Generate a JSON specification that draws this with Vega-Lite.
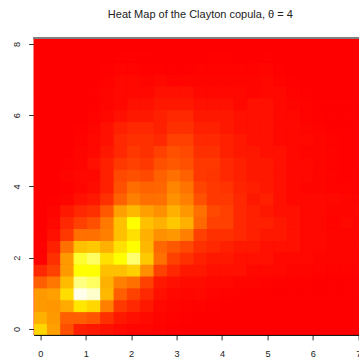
{
  "$schema": "https://vega.github.io/schema/vega-lite/v6.json",
  "width": 325.4,
  "height": 296.9,
  "autosize": {"type": "none"},
  "padding": {"left": 33.6, "top": 38, "right": 0, "bottom": 26.1},
  "title": {
    "text": "Heat Map of the Clayton copula, θ = 4",
    "font": "Liberation Sans",
    "fontSize": 11,
    "fontWeight": "normal",
    "color": "#222222",
    "anchor": "middle",
    "frame": "group",
    "baseline": "alphabetic",
    "dx": 4,
    "offset": 9
  },
  "data": {
    "values": [
      {"x":0,"y":0,"z":0.63},{"x":0.2933,"y":0,"z":0.47},{"x":0.5867,"y":0,"z":0.235},{"x":0.88,"y":0,"z":0.09},{"x":1.1733,"y":0,"z":0.07},{"x":1.4667,"y":0,"z":0.05},{"x":1.76,"y":0,"z":0.025},{"x":2.0533,"y":0,"z":0.015},{"x":2.3467,"y":0,"z":0.015},{"x":2.64,"y":0,"z":0.008},{"x":2.9333,"y":0,"z":0.003},{"x":3.2267,"y":0,"z":0},{"x":3.52,"y":0,"z":0},{"x":3.8133,"y":0,"z":0},{"x":4.1067,"y":0,"z":0},{"x":4.4,"y":0,"z":0},{"x":4.6933,"y":0,"z":0},{"x":4.9867,"y":0,"z":0},{"x":5.28,"y":0,"z":0},{"x":5.5733,"y":0,"z":0},{"x":5.8667,"y":0,"z":0},{"x":6.16,"y":0,"z":0},{"x":6.4533,"y":0,"z":0},{"x":6.7467,"y":0,"z":0},{"x":7.04,"y":0,"z":0},
      {"x":0,"y":0.3333,"z":0.52},{"x":0.2933,"y":0.3333,"z":0.45},{"x":0.5867,"y":0.3333,"z":0.28},{"x":0.88,"y":0.3333,"z":0.28},{"x":1.1733,"y":0.3333,"z":0.25},{"x":1.4667,"y":0.3333,"z":0.14},{"x":1.76,"y":0.3333,"z":0.07},{"x":2.0533,"y":0.3333,"z":0.047},{"x":2.3467,"y":0.3333,"z":0.03},{"x":2.64,"y":0.3333,"z":0.015},{"x":2.9333,"y":0.3333,"z":0.008},{"x":3.2267,"y":0.3333,"z":0.003},{"x":3.52,"y":0.3333,"z":0},{"x":3.8133,"y":0.3333,"z":0},{"x":4.1067,"y":0.3333,"z":0},{"x":4.4,"y":0.3333,"z":0},{"x":4.6933,"y":0.3333,"z":0},{"x":4.9867,"y":0.3333,"z":0},{"x":5.28,"y":0.3333,"z":0},{"x":5.5733,"y":0.3333,"z":0},{"x":5.8667,"y":0.3333,"z":0},{"x":6.16,"y":0.3333,"z":0},{"x":6.4533,"y":0.3333,"z":0},{"x":6.7467,"y":0.3333,"z":0},{"x":7.04,"y":0.3333,"z":0},
      {"x":0,"y":0.6667,"z":0.45},{"x":0.2933,"y":0.6667,"z":0.44},{"x":0.5867,"y":0.6667,"z":0.5},{"x":0.88,"y":0.6667,"z":0.68},{"x":1.1733,"y":0.6667,"z":0.635},{"x":1.4667,"y":0.6667,"z":0.376},{"x":1.76,"y":0.6667,"z":0.165},{"x":2.0533,"y":0.6667,"z":0.118},{"x":2.3467,"y":0.6667,"z":0.07},{"x":2.64,"y":0.6667,"z":0.024},{"x":2.9333,"y":0.6667,"z":0.015},{"x":3.2267,"y":0.6667,"z":0.01},{"x":3.52,"y":0.6667,"z":0.01},{"x":3.8133,"y":0.6667,"z":0.003},{"x":4.1067,"y":0.6667,"z":0},{"x":4.4,"y":0.6667,"z":0},{"x":4.6933,"y":0.6667,"z":0},{"x":4.9867,"y":0.6667,"z":0},{"x":5.28,"y":0.6667,"z":0},{"x":5.5733,"y":0.6667,"z":0},{"x":5.8667,"y":0.6667,"z":0},{"x":6.16,"y":0.6667,"z":0},{"x":6.4533,"y":0.6667,"z":0},{"x":6.7467,"y":0.6667,"z":0},{"x":7.04,"y":0.6667,"z":0},
      {"x":0,"y":1,"z":0.45},{"x":0.2933,"y":1,"z":0.47},{"x":0.5867,"y":1,"z":0.65},{"x":0.88,"y":1,"z":0.98},{"x":1.1733,"y":1,"z":0.95},{"x":1.4667,"y":1,"z":0.54},{"x":1.76,"y":1,"z":0.28},{"x":2.0533,"y":1,"z":0.19},{"x":2.3467,"y":1,"z":0.118},{"x":2.64,"y":1,"z":0.047},{"x":2.9333,"y":1,"z":0.024},{"x":3.2267,"y":1,"z":0.02},{"x":3.52,"y":1,"z":0.024},{"x":3.8133,"y":1,"z":0.012},{"x":4.1067,"y":1,"z":0.01},{"x":4.4,"y":1,"z":0.008},{"x":4.6933,"y":1,"z":0.006},{"x":4.9867,"y":1,"z":0.005},{"x":5.28,"y":1,"z":0.004},{"x":5.5733,"y":1,"z":0.003},{"x":5.8667,"y":1,"z":0.003},{"x":6.16,"y":1,"z":0.002},{"x":6.4533,"y":1,"z":0.002},{"x":6.7467,"y":1,"z":0.002},{"x":7.04,"y":1,"z":0.002},
      {"x":0,"y":1.3333,"z":0.28},{"x":0.2933,"y":1.3333,"z":0.35},{"x":0.5867,"y":1.3333,"z":0.55},{"x":0.88,"y":1.3333,"z":0.875},{"x":1.1733,"y":1.3333,"z":0.845},{"x":1.4667,"y":1.3333,"z":0.52},{"x":1.76,"y":1.3333,"z":0.376},{"x":2.0533,"y":1.3333,"z":0.33},{"x":2.3467,"y":1.3333,"z":0.19},{"x":2.64,"y":1.3333,"z":0.07},{"x":2.9333,"y":1.3333,"z":0.047},{"x":3.2267,"y":1.3333,"z":0.035},{"x":3.52,"y":1.3333,"z":0.035},{"x":3.8133,"y":1.3333,"z":0.024},{"x":4.1067,"y":1.3333,"z":0.024},{"x":4.4,"y":1.3333,"z":0.015},{"x":4.6933,"y":1.3333,"z":0.015},{"x":4.9867,"y":1.3333,"z":0.01},{"x":5.28,"y":1.3333,"z":0.008},{"x":5.5733,"y":1.3333,"z":0.006},{"x":5.8667,"y":1.3333,"z":0.005},{"x":6.16,"y":1.3333,"z":0.004},{"x":6.4533,"y":1.3333,"z":0.003},{"x":6.7467,"y":1.3333,"z":0.003},{"x":7.04,"y":1.3333,"z":0.003},
      {"x":0,"y":1.6667,"z":0.118},{"x":0.2933,"y":1.6667,"z":0.19},{"x":0.5867,"y":1.6667,"z":0.45},{"x":0.88,"y":1.6667,"z":0.75},{"x":1.1733,"y":1.6667,"z":0.75},{"x":1.4667,"y":1.6667,"z":0.565},{"x":1.76,"y":1.6667,"z":0.565},{"x":2.0533,"y":1.6667,"z":0.61},{"x":2.3467,"y":1.6667,"z":0.42},{"x":2.64,"y":1.6667,"z":0.19},{"x":2.9333,"y":1.6667,"z":0.118},{"x":3.2267,"y":1.6667,"z":0.07},{"x":3.52,"y":1.6667,"z":0.07},{"x":3.8133,"y":1.6667,"z":0.047},{"x":4.1067,"y":1.6667,"z":0.047},{"x":4.4,"y":1.6667,"z":0.047},{"x":4.6933,"y":1.6667,"z":0.024},{"x":4.9867,"y":1.6667,"z":0.024},{"x":5.28,"y":1.6667,"z":0.024},{"x":5.5733,"y":1.6667,"z":0.015},{"x":5.8667,"y":1.6667,"z":0.015},{"x":6.16,"y":1.6667,"z":0.012},{"x":6.4533,"y":1.6667,"z":0.01},{"x":6.7467,"y":1.6667,"z":0.008},{"x":7.04,"y":1.6667,"z":0.008},
      {"x":0,"y":2,"z":0.005},{"x":0.2933,"y":2,"z":0.141},{"x":0.5867,"y":2,"z":0.45},{"x":0.88,"y":2,"z":0.797},{"x":1.1733,"y":2,"z":0.845},{"x":1.4667,"y":2,"z":0.66},{"x":1.76,"y":2,"z":0.75},{"x":2.0533,"y":2,"z":0.86},{"x":2.3467,"y":2,"z":0.59},{"x":2.64,"y":2,"z":0.33},{"x":2.9333,"y":2,"z":0.19},{"x":3.2267,"y":2,"z":0.141},{"x":3.52,"y":2,"z":0.094},{"x":3.8133,"y":2,"z":0.07},{"x":4.1067,"y":2,"z":0.07},{"x":4.4,"y":2,"z":0.047},{"x":4.6933,"y":2,"z":0.047},{"x":4.9867,"y":2,"z":0.047},{"x":5.28,"y":2,"z":0.024},{"x":5.5733,"y":2,"z":0.024},{"x":5.8667,"y":2,"z":0.024},{"x":6.16,"y":2,"z":0.015},{"x":6.4533,"y":2,"z":0.015},{"x":6.7467,"y":2,"z":0.015},{"x":7.04,"y":2,"z":0.015},
      {"x":0,"y":2.3333,"z":0.002},{"x":0.2933,"y":2.3333,"z":0.094},{"x":0.5867,"y":2.3333,"z":0.33},{"x":0.88,"y":2.3333,"z":0.565},{"x":1.1733,"y":2.3333,"z":0.588},{"x":1.4667,"y":2.3333,"z":0.518},{"x":1.76,"y":2.3333,"z":0.659},{"x":2.0533,"y":2.3333,"z":0.75},{"x":2.3467,"y":2.3333,"z":0.541},{"x":2.64,"y":2.3333,"z":0.306},{"x":2.9333,"y":2.3333,"z":0.259},{"x":3.2267,"y":2.3333,"z":0.212},{"x":3.52,"y":2.3333,"z":0.141},{"x":3.8133,"y":2.3333,"z":0.118},{"x":4.1067,"y":2.3333,"z":0.094},{"x":4.4,"y":2.3333,"z":0.07},{"x":4.6933,"y":2.3333,"z":0.07},{"x":4.9867,"y":2.3333,"z":0.047},{"x":5.28,"y":2.3333,"z":0.047},{"x":5.5733,"y":2.3333,"z":0.047},{"x":5.8667,"y":2.3333,"z":0.024},{"x":6.16,"y":2.3333,"z":0.024},{"x":6.4533,"y":2.3333,"z":0.015},{"x":6.7467,"y":2.3333,"z":0.015},{"x":7.04,"y":2.3333,"z":0.015},
      {"x":0,"y":2.6667,"z":0},{"x":0.2933,"y":2.6667,"z":0.047},{"x":0.5867,"y":2.6667,"z":0.165},{"x":0.88,"y":2.6667,"z":0.33},{"x":1.1733,"y":2.6667,"z":0.33},{"x":1.4667,"y":2.6667,"z":0.376},{"x":1.76,"y":2.6667,"z":0.565},{"x":2.0533,"y":2.6667,"z":0.659},{"x":2.3467,"y":2.6667,"z":0.518},{"x":2.64,"y":2.6667,"z":0.424},{"x":2.9333,"y":2.6667,"z":0.447},{"x":3.2267,"y":2.6667,"z":0.376},{"x":3.52,"y":2.6667,"z":0.188},{"x":3.8133,"y":2.6667,"z":0.141},{"x":4.1067,"y":2.6667,"z":0.141},{"x":4.4,"y":2.6667,"z":0.118},{"x":4.6933,"y":2.6667,"z":0.094},{"x":4.9867,"y":2.6667,"z":0.07},{"x":5.28,"y":2.6667,"z":0.07},{"x":5.5733,"y":2.6667,"z":0.047},{"x":5.8667,"y":2.6667,"z":0.024},{"x":6.16,"y":2.6667,"z":0.024},{"x":6.4533,"y":2.6667,"z":0.015},{"x":6.7467,"y":2.6667,"z":0.015},{"x":7.04,"y":2.6667,"z":0.015},
      {"x":0,"y":3,"z":0},{"x":0.2933,"y":3,"z":0.024},{"x":0.5867,"y":3,"z":0.118},{"x":0.88,"y":3,"z":0.188},{"x":1.1733,"y":3,"z":0.235},{"x":1.4667,"y":3,"z":0.353},{"x":1.76,"y":3,"z":0.565},{"x":2.0533,"y":3,"z":0.75},{"x":2.3467,"y":3,"z":0.565},{"x":2.64,"y":3,"z":0.518},{"x":2.9333,"y":3,"z":0.588},{"x":3.2267,"y":3,"z":0.518},{"x":3.52,"y":3,"z":0.306},{"x":3.8133,"y":3,"z":0.188},{"x":4.1067,"y":3,"z":0.188},{"x":4.4,"y":3,"z":0.118},{"x":4.6933,"y":3,"z":0.094},{"x":4.9867,"y":3,"z":0.094},{"x":5.28,"y":3,"z":0.07},{"x":5.5733,"y":3,"z":0.047},{"x":5.8667,"y":3,"z":0.024},{"x":6.16,"y":3,"z":0.024},{"x":6.4533,"y":3,"z":0.01},{"x":6.7467,"y":3,"z":0.024},{"x":7.04,"y":3,"z":0.015},
      {"x":0,"y":3.3333,"z":0},{"x":0.2933,"y":3.3333,"z":0.015},{"x":0.5867,"y":3.3333,"z":0.07},{"x":0.88,"y":3.3333,"z":0.118},{"x":1.1733,"y":3.3333,"z":0.141},{"x":1.4667,"y":3.3333,"z":0.259},{"x":1.76,"y":3.3333,"z":0.47},{"x":2.0533,"y":3.3333,"z":0.541},{"x":2.3467,"y":3.3333,"z":0.47},{"x":2.64,"y":3.3333,"z":0.424},{"x":2.9333,"y":3.3333,"z":0.518},{"x":3.2267,"y":3.3333,"z":0.447},{"x":3.52,"y":3.3333,"z":0.33},{"x":3.8133,"y":3.3333,"z":0.212},{"x":4.1067,"y":3.3333,"z":0.188},{"x":4.4,"y":3.3333,"z":0.118},{"x":4.6933,"y":3.3333,"z":0.094},{"x":4.9867,"y":3.3333,"z":0.07},{"x":5.28,"y":3.3333,"z":0.047},{"x":5.5733,"y":3.3333,"z":0.047},{"x":5.8667,"y":3.3333,"z":0.024},{"x":6.16,"y":3.3333,"z":0.024},{"x":6.4533,"y":3.3333,"z":0.015},{"x":6.7467,"y":3.3333,"z":0.015},{"x":7.04,"y":3.3333,"z":0.024},
      {"x":0,"y":3.6667,"z":0},{"x":0.2933,"y":3.6667,"z":0.005},{"x":0.5867,"y":3.6667,"z":0.015},{"x":0.88,"y":3.6667,"z":0.047},{"x":1.1733,"y":3.6667,"z":0.07},{"x":1.4667,"y":3.6667,"z":0.141},{"x":1.76,"y":3.6667,"z":0.282},{"x":2.0533,"y":3.6667,"z":0.376},{"x":2.3467,"y":3.6667,"z":0.33},{"x":2.64,"y":3.6667,"z":0.33},{"x":2.9333,"y":3.6667,"z":0.424},{"x":3.2267,"y":3.6667,"z":0.376},{"x":3.52,"y":3.6667,"z":0.235},{"x":3.8133,"y":3.6667,"z":0.165},{"x":4.1067,"y":3.6667,"z":0.165},{"x":4.4,"y":3.6667,"z":0.118},{"x":4.6933,"y":3.6667,"z":0.07},{"x":4.9867,"y":3.6667,"z":0.094},{"x":5.28,"y":3.6667,"z":0.047},{"x":5.5733,"y":3.6667,"z":0.024},{"x":5.8667,"y":3.6667,"z":0.024},{"x":6.16,"y":3.6667,"z":0.024},{"x":6.4533,"y":3.6667,"z":0.024},{"x":6.7467,"y":3.6667,"z":0.015},{"x":7.04,"y":3.6667,"z":0.015},
      {"x":0,"y":4,"z":0},{"x":0.2933,"y":4,"z":0},{"x":0.5867,"y":4,"z":0.005},{"x":0.88,"y":4,"z":0.02},{"x":1.1733,"y":4,"z":0.035},{"x":1.4667,"y":4,"z":0.094},{"x":1.76,"y":4,"z":0.235},{"x":2.0533,"y":4,"z":0.32},{"x":2.3467,"y":4,"z":0.29},{"x":2.64,"y":4,"z":0.3},{"x":2.9333,"y":4,"z":0.39},{"x":3.2267,"y":4,"z":0.34},{"x":3.52,"y":4,"z":0.2},{"x":3.8133,"y":4,"z":0.165},{"x":4.1067,"y":4,"z":0.15},{"x":4.4,"y":4,"z":0.105},{"x":4.6933,"y":4,"z":0.09},{"x":4.9867,"y":4,"z":0.07},{"x":5.28,"y":4,"z":0.047},{"x":5.5733,"y":4,"z":0.024},{"x":5.8667,"y":4,"z":0.015},{"x":6.16,"y":4,"z":0.015},{"x":6.4533,"y":4,"z":0.01},{"x":6.7467,"y":4,"z":0.008},{"x":7.04,"y":4,"z":0.005},
      {"x":0,"y":4.3333,"z":0},{"x":0.2933,"y":4.3333,"z":0},{"x":0.5867,"y":4.3333,"z":0.015},{"x":0.88,"y":4.3333,"z":0.024},{"x":1.1733,"y":4.3333,"z":0.024},{"x":1.4667,"y":4.3333,"z":0.094},{"x":1.76,"y":4.3333,"z":0.212},{"x":2.0533,"y":4.3333,"z":0.235},{"x":2.3467,"y":4.3333,"z":0.212},{"x":2.64,"y":4.3333,"z":0.282},{"x":2.9333,"y":4.3333,"z":0.33},{"x":3.2267,"y":4.3333,"z":0.282},{"x":3.52,"y":4.3333,"z":0.165},{"x":3.8133,"y":4.3333,"z":0.155},{"x":4.1067,"y":4.3333,"z":0.118},{"x":4.4,"y":4.3333,"z":0.094},{"x":4.6933,"y":4.3333,"z":0.07},{"x":4.9867,"y":4.3333,"z":0.07},{"x":5.28,"y":4.3333,"z":0.047},{"x":5.5733,"y":4.3333,"z":0.024},{"x":5.8667,"y":4.3333,"z":0.024},{"x":6.16,"y":4.3333,"z":0.015},{"x":6.4533,"y":4.3333,"z":0.008},{"x":6.7467,"y":4.3333,"z":0.005},{"x":7.04,"y":4.3333,"z":0.005},
      {"x":0,"y":4.6667,"z":0},{"x":0.2933,"y":4.6667,"z":0},{"x":0.5867,"y":4.6667,"z":0.009},{"x":0.88,"y":4.6667,"z":0.015},{"x":1.1733,"y":4.6667,"z":0.047},{"x":1.4667,"y":4.6667,"z":0.094},{"x":1.76,"y":4.6667,"z":0.165},{"x":2.0533,"y":4.6667,"z":0.188},{"x":2.3467,"y":4.6667,"z":0.165},{"x":2.64,"y":4.6667,"z":0.235},{"x":2.9333,"y":4.6667,"z":0.259},{"x":3.2267,"y":4.6667,"z":0.235},{"x":3.52,"y":4.6667,"z":0.165},{"x":3.8133,"y":4.6667,"z":0.165},{"x":4.1067,"y":4.6667,"z":0.118},{"x":4.4,"y":4.6667,"z":0.094},{"x":4.6933,"y":4.6667,"z":0.07},{"x":4.9867,"y":4.6667,"z":0.07},{"x":5.28,"y":4.6667,"z":0.047},{"x":5.5733,"y":4.6667,"z":0.024},{"x":5.8667,"y":4.6667,"z":0.024},{"x":6.16,"y":4.6667,"z":0.015},{"x":6.4533,"y":4.6667,"z":0.008},{"x":6.7467,"y":4.6667,"z":0.005},{"x":7.04,"y":4.6667,"z":0.003},
      {"x":0,"y":5,"z":0},{"x":0.2933,"y":5,"z":0},{"x":0.5867,"y":5,"z":0},{"x":0.88,"y":5,"z":0.015},{"x":1.1733,"y":5,"z":0.024},{"x":1.4667,"y":5,"z":0.07},{"x":1.76,"y":5,"z":0.118},{"x":2.0533,"y":5,"z":0.165},{"x":2.3467,"y":5,"z":0.141},{"x":2.64,"y":5,"z":0.188},{"x":2.9333,"y":5,"z":0.235},{"x":3.2267,"y":5,"z":0.212},{"x":3.52,"y":5,"z":0.141},{"x":3.8133,"y":5,"z":0.141},{"x":4.1067,"y":5,"z":0.094},{"x":4.4,"y":5,"z":0.07},{"x":4.6933,"y":5,"z":0.07},{"x":4.9867,"y":5,"z":0.047},{"x":5.28,"y":5,"z":0.047},{"x":5.5733,"y":5,"z":0.024},{"x":5.8667,"y":5,"z":0.015},{"x":6.16,"y":5,"z":0.015},{"x":6.4533,"y":5,"z":0.009},{"x":6.7467,"y":5,"z":0.005},{"x":7.04,"y":5,"z":0.003},
      {"x":0,"y":5.3333,"z":0},{"x":0.2933,"y":5.3333,"z":0},{"x":0.5867,"y":5.3333,"z":0},{"x":0.88,"y":5.3333,"z":0.009},{"x":1.1733,"y":5.3333,"z":0.024},{"x":1.4667,"y":5.3333,"z":0.047},{"x":1.76,"y":5.3333,"z":0.118},{"x":2.0533,"y":5.3333,"z":0.141},{"x":2.3467,"y":5.3333,"z":0.141},{"x":2.64,"y":5.3333,"z":0.118},{"x":2.9333,"y":5.3333,"z":0.188},{"x":3.2267,"y":5.3333,"z":0.188},{"x":3.52,"y":5.3333,"z":0.118},{"x":3.8133,"y":5.3333,"z":0.118},{"x":4.1067,"y":5.3333,"z":0.094},{"x":4.4,"y":5.3333,"z":0.07},{"x":4.6933,"y":5.3333,"z":0.047},{"x":4.9867,"y":5.3333,"z":0.047},{"x":5.28,"y":5.3333,"z":0.024},{"x":5.5733,"y":5.3333,"z":0.024},{"x":5.8667,"y":5.3333,"z":0.024},{"x":6.16,"y":5.3333,"z":0.015},{"x":6.4533,"y":5.3333,"z":0.008},{"x":6.7467,"y":5.3333,"z":0.005},{"x":7.04,"y":5.3333,"z":0.003},
      {"x":0,"y":5.6667,"z":0},{"x":0.2933,"y":5.6667,"z":0},{"x":0.5867,"y":5.6667,"z":0},{"x":0.88,"y":5.6667,"z":0.005},{"x":1.1733,"y":5.6667,"z":0.015},{"x":1.4667,"y":5.6667,"z":0.047},{"x":1.76,"y":5.6667,"z":0.094},{"x":2.0533,"y":5.6667,"z":0.118},{"x":2.3467,"y":5.6667,"z":0.118},{"x":2.64,"y":5.6667,"z":0.094},{"x":2.9333,"y":5.6667,"z":0.141},{"x":3.2267,"y":5.6667,"z":0.141},{"x":3.52,"y":5.6667,"z":0.094},{"x":3.8133,"y":5.6667,"z":0.094},{"x":4.1067,"y":5.6667,"z":0.07},{"x":4.4,"y":5.6667,"z":0.047},{"x":4.6933,"y":5.6667,"z":0.047},{"x":4.9867,"y":5.6667,"z":0.047},{"x":5.28,"y":5.6667,"z":0.024},{"x":5.5733,"y":5.6667,"z":0.024},{"x":5.8667,"y":5.6667,"z":0.015},{"x":6.16,"y":5.6667,"z":0.009},{"x":6.4533,"y":5.6667,"z":0.005},{"x":6.7467,"y":5.6667,"z":0.003},{"x":7.04,"y":5.6667,"z":0.002},
      {"x":0,"y":6,"z":0},{"x":0.2933,"y":6,"z":0},{"x":0.5867,"y":6,"z":0},{"x":0.88,"y":6,"z":0},{"x":1.1733,"y":6,"z":0.009},{"x":1.4667,"y":6,"z":0.024},{"x":1.76,"y":6,"z":0.047},{"x":2.0533,"y":6,"z":0.07},{"x":2.3467,"y":6,"z":0.07},{"x":2.64,"y":6,"z":0.094},{"x":2.9333,"y":6,"z":0.118},{"x":3.2267,"y":6,"z":0.118},{"x":3.52,"y":6,"z":0.07},{"x":3.8133,"y":6,"z":0.07},{"x":4.1067,"y":6,"z":0.07},{"x":4.4,"y":6,"z":0.047},{"x":4.6933,"y":6,"z":0.047},{"x":4.9867,"y":6,"z":0.047},{"x":5.28,"y":6,"z":0.024},{"x":5.5733,"y":6,"z":0.024},{"x":5.8667,"y":6,"z":0.009},{"x":6.16,"y":6,"z":0.005},{"x":6.4533,"y":6,"z":0.003},{"x":6.7467,"y":6,"z":0.002},{"x":7.04,"y":6,"z":0},
      {"x":0,"y":6.3333,"z":0},{"x":0.2933,"y":6.3333,"z":0},{"x":0.5867,"y":6.3333,"z":0},{"x":0.88,"y":6.3333,"z":0},{"x":1.1733,"y":6.3333,"z":0.005},{"x":1.4667,"y":6.3333,"z":0.015},{"x":1.76,"y":6.3333,"z":0.024},{"x":2.0533,"y":6.3333,"z":0.047},{"x":2.3467,"y":6.3333,"z":0.047},{"x":2.64,"y":6.3333,"z":0.07},{"x":2.9333,"y":6.3333,"z":0.07},{"x":3.2267,"y":6.3333,"z":0.07},{"x":3.52,"y":6.3333,"z":0.047},{"x":3.8133,"y":6.3333,"z":0.047},{"x":4.1067,"y":6.3333,"z":0.047},{"x":4.4,"y":6.3333,"z":0.024},{"x":4.6933,"y":6.3333,"z":0.047},{"x":4.9867,"y":6.3333,"z":0.047},{"x":5.28,"y":6.3333,"z":0.024},{"x":5.5733,"y":6.3333,"z":0.015},{"x":5.8667,"y":6.3333,"z":0.009},{"x":6.16,"y":6.3333,"z":0.005},{"x":6.4533,"y":6.3333,"z":0.003},{"x":6.7467,"y":6.3333,"z":0.002},{"x":7.04,"y":6.3333,"z":0},
      {"x":0,"y":6.6667,"z":0},{"x":0.2933,"y":6.6667,"z":0},{"x":0.5867,"y":6.6667,"z":0},{"x":0.88,"y":6.6667,"z":0},{"x":1.1733,"y":6.6667,"z":0.003},{"x":1.4667,"y":6.6667,"z":0.015},{"x":1.76,"y":6.6667,"z":0.024},{"x":2.0533,"y":6.6667,"z":0.024},{"x":2.3467,"y":6.6667,"z":0.024},{"x":2.64,"y":6.6667,"z":0.047},{"x":2.9333,"y":6.6667,"z":0.047},{"x":3.2267,"y":6.6667,"z":0.047},{"x":3.52,"y":6.6667,"z":0.024},{"x":3.8133,"y":6.6667,"z":0.024},{"x":4.1067,"y":6.6667,"z":0.024},{"x":4.4,"y":6.6667,"z":0.024},{"x":4.6933,"y":6.6667,"z":0.015},{"x":4.9867,"y":6.6667,"z":0.024},{"x":5.28,"y":6.6667,"z":0.024},{"x":5.5733,"y":6.6667,"z":0.009},{"x":5.8667,"y":6.6667,"z":0.003},{"x":6.16,"y":6.6667,"z":0},{"x":6.4533,"y":6.6667,"z":0},{"x":6.7467,"y":6.6667,"z":0},{"x":7.04,"y":6.6667,"z":0},
      {"x":0,"y":7,"z":0},{"x":0.2933,"y":7,"z":0},{"x":0.5867,"y":7,"z":0},{"x":0.88,"y":7,"z":0},{"x":1.1733,"y":7,"z":0},{"x":1.4667,"y":7,"z":0.009},{"x":1.76,"y":7,"z":0.024},{"x":2.0533,"y":7,"z":0.024},{"x":2.3467,"y":7,"z":0.015},{"x":2.64,"y":7,"z":0.024},{"x":2.9333,"y":7,"z":0.012},{"x":3.2267,"y":7,"z":0.015},{"x":3.52,"y":7,"z":0.015},{"x":3.8133,"y":7,"z":0.015},{"x":4.1067,"y":7,"z":0.015},{"x":4.4,"y":7,"z":0.015},{"x":4.6933,"y":7,"z":0.015},{"x":4.9867,"y":7,"z":0.024},{"x":5.28,"y":7,"z":0.009},{"x":5.5733,"y":7,"z":0.003},{"x":5.8667,"y":7,"z":0},{"x":6.16,"y":7,"z":0},{"x":6.4533,"y":7,"z":0},{"x":6.7467,"y":7,"z":0},{"x":7.04,"y":7,"z":0},
      {"x":0,"y":7.3333,"z":0},{"x":0.2933,"y":7.3333,"z":0},{"x":0.5867,"y":7.3333,"z":0},{"x":0.88,"y":7.3333,"z":0},{"x":1.1733,"y":7.3333,"z":0},{"x":1.4667,"y":7.3333,"z":0.003},{"x":1.76,"y":7.3333,"z":0.012},{"x":2.0533,"y":7.3333,"z":0.012},{"x":2.3467,"y":7.3333,"z":0.005},{"x":2.64,"y":7.3333,"z":0.005},{"x":2.9333,"y":7.3333,"z":0.003},{"x":3.2267,"y":7.3333,"z":0.003},{"x":3.52,"y":7.3333,"z":0.009},{"x":3.8133,"y":7.3333,"z":0.009},{"x":4.1067,"y":7.3333,"z":0.009},{"x":4.4,"y":7.3333,"z":0.009},{"x":4.6933,"y":7.3333,"z":0.009},{"x":4.9867,"y":7.3333,"z":0.015},{"x":5.28,"y":7.3333,"z":0.003},{"x":5.5733,"y":7.3333,"z":0},{"x":5.8667,"y":7.3333,"z":0},{"x":6.16,"y":7.3333,"z":0},{"x":6.4533,"y":7.3333,"z":0},{"x":6.7467,"y":7.3333,"z":0},{"x":7.04,"y":7.3333,"z":0},
      {"x":0,"y":7.6667,"z":0},{"x":0.2933,"y":7.6667,"z":0},{"x":0.5867,"y":7.6667,"z":0},{"x":0.88,"y":7.6667,"z":0},{"x":1.1733,"y":7.6667,"z":0},{"x":1.4667,"y":7.6667,"z":0},{"x":1.76,"y":7.6667,"z":0.003},{"x":2.0533,"y":7.6667,"z":0.003},{"x":2.3467,"y":7.6667,"z":0.003},{"x":2.64,"y":7.6667,"z":0},{"x":2.9333,"y":7.6667,"z":0},{"x":3.2267,"y":7.6667,"z":0},{"x":3.52,"y":7.6667,"z":0},{"x":3.8133,"y":7.6667,"z":0.005},{"x":4.1067,"y":7.6667,"z":0.005},{"x":4.4,"y":7.6667,"z":0},{"x":4.6933,"y":7.6667,"z":0},{"x":4.9867,"y":7.6667,"z":0.003},{"x":5.28,"y":7.6667,"z":0},{"x":5.5733,"y":7.6667,"z":0},{"x":5.8667,"y":7.6667,"z":0},{"x":6.16,"y":7.6667,"z":0},{"x":6.4533,"y":7.6667,"z":0},{"x":6.7467,"y":7.6667,"z":0},{"x":7.04,"y":7.6667,"z":0},
      {"x":0,"y":8,"z":0},{"x":0.2933,"y":8,"z":0},{"x":0.5867,"y":8,"z":0},{"x":0.88,"y":8,"z":0},{"x":1.1733,"y":8,"z":0},{"x":1.4667,"y":8,"z":0},{"x":1.76,"y":8,"z":0},{"x":2.0533,"y":8,"z":0},{"x":2.3467,"y":8,"z":0},{"x":2.64,"y":8,"z":0},{"x":2.9333,"y":8,"z":0},{"x":3.2267,"y":8,"z":0},{"x":3.52,"y":8,"z":0},{"x":3.8133,"y":8,"z":0},{"x":4.1067,"y":8,"z":0},{"x":4.4,"y":8,"z":0},{"x":4.6933,"y":8,"z":0},{"x":4.9867,"y":8,"z":0},{"x":5.28,"y":8,"z":0},{"x":5.5733,"y":8,"z":0},{"x":5.8667,"y":8,"z":0},{"x":6.16,"y":8,"z":0},{"x":6.4533,"y":8,"z":0},{"x":6.7467,"y":8,"z":0},{"x":7.04,"y":8,"z":0}
    ]
  },
  "layer": [
    {
      "mark": {"type": "rect", "clip": true, "binSpacing": 0, "strokeWidth": 1, "strokeOpacity": 1},
      "encoding": {
        "x": {
          "field": "x", "type": "quantitative",
          "bin": {"extent": [-0.146667, 7.186667], "step": 0.293333, "nice": false},
          "scale": {"domain": [-0.146667, 7.0152], "nice": false, "zero": false},
          "axis": {
            "orient": "bottom", "values": [0, 1, 2, 3, 4, 5, 6, 7], "format": "d",
            "title": null, "grid": false, "labelFlush": false,
            "domain": true, "domainColor": "#000000", "domainWidth": 1,
            "ticks": true, "tickSize": 5, "tickColor": "#333333", "tickWidth": 1,
            "labelFont": "Liberation Sans", "labelFontSize": 9.2, "labelColor": "#222222",
            "labelBaseline": "alphabetic", "labelPadding": 16.6, "labelOverlap": false
          }
        },
        "y": {
          "field": "y", "type": "quantitative",
          "bin": {"extent": [-0.166667, 8.166667], "step": 0.333333, "nice": false},
          "scale": {"domain": [-0.166667, 8.166667], "nice": false, "zero": false},
          "axis": {
            "values": [0, 2, 4, 6, 8], "format": "d",
            "title": null, "grid": false, "domain": false, "labelFlush": false,
            "ticks": true, "tickSize": 5, "tickColor": "#333333", "tickWidth": 1,
            "labelFont": "Liberation Sans", "labelFontSize": 9.2, "labelColor": "#222222",
            "labelAngle": -90, "labelAlign": "center", "labelBaseline": "alphabetic",
            "labelPadding": 9.5, "labelOverlap": false
          }
        },
        "color": {
          "field": "z", "type": "quantitative",
          "scale": {"domain": [0, 0.75, 1], "range": ["#ff0000", "#ffff00", "#ffffff"], "interpolate": "rgb"},
          "legend": null
        },
        "stroke": {
          "field": "z", "type": "quantitative",
          "scale": {"domain": [0, 0.75, 1], "range": ["#ff0000", "#ffff00", "#ffffff"], "interpolate": "rgb"},
          "legend": null
        }
      }
    },
    {
      "mark": {"type": "rule", "color": "#808080", "strokeWidth": 1},
      "encoding": {
        "y": {"datum": 8.166667, "type": "quantitative"}
      }
    }
  ],
  "config": {"view": {"stroke": null, "fill": "#ff0000"}}
}
